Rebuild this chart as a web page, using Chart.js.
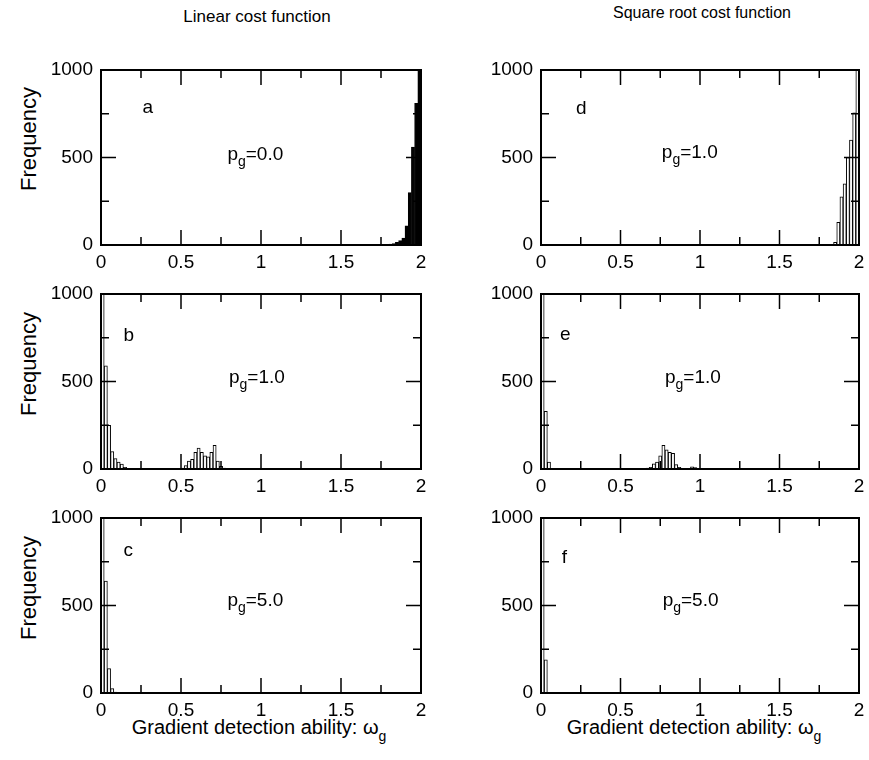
<!DOCTYPE html>
<html>
<head>
<meta charset="utf-8">
<script src="https://cdn.jsdelivr.net/npm/chart.js@4.4.0/dist/chart.umd.min.js"></script>
<style>
  body { margin: 0; background: #fff; width: 869px; height: 760px; position: relative; overflow: hidden;
         font-family: "Liberation Sans", Arial, Helvetica, sans-serif; color: #000; }
  canvas { position: absolute; }
  .txt { position: absolute; white-space: nowrap; }
  .ylab { position: absolute; font-size: 22px; transform: translate(-50%, -50%) rotate(-90deg); white-space: nowrap; }
  sub { font-size: 14px; vertical-align: -7px; line-height: 0; }
</style>
</head>
<body>
<div class="txt" style="left:0;width:514px;top:7px;text-align:center;font-size:17px">Linear cost function</div>
<div class="txt" style="left:552px;width:300px;top:4px;text-align:center;font-size:16px">Square root cost function</div>

<div class="ylab" style="left:29px;top:139px">Frequency</div>
<div class="ylab" style="left:29px;top:364px">Frequency</div>
<div class="ylab" style="left:29px;top:588px">Frequency</div>

<div class="txt" style="left:59px;width:400px;top:716px;text-align:center;font-size:20px">Gradient detection ability: &omega;<sub>g</sub></div>
<div class="txt" style="left:494px;width:400px;top:716px;text-align:center;font-size:20px">Gradient detection ability: &omega;<sub>g</sub></div>

<canvas id="pa" width="400" height="220" style="left:31px;top:58px"></canvas>
<canvas id="pb" width="400" height="220" style="left:31px;top:282px"></canvas>
<canvas id="pc" width="400" height="220" style="left:31px;top:506px"></canvas>
<canvas id="pd" width="398" height="220" style="left:471px;top:58px"></canvas>
<canvas id="pe" width="398" height="220" style="left:471px;top:282px"></canvas>
<canvas id="pf" width="398" height="220" style="left:471px;top:506px"></canvas>

<script>
// histogram bins are 0.02 wide on [0, 2]; only non-empty bins are listed (bin start, count)
const binWidth = 0.02;
const binCount = 100;
const xTicks = [0, 0.5, 1, 1.5, 2];
const xMinor = [0.25, 0.75, 1.25, 1.75];
const yTicks = [0, 500, 1000];
const yMinor = [250, 750];

// linear cost function
const aStarts = [1.78, 1.80, 1.82, 1.84, 1.86, 1.88, 1.90, 1.92, 1.94, 1.96, 1.98];
const aCounts = [3, 5, 8, 15, 25, 40, 110, 300, 560, 810, 1000];
const bStarts = [0, 0.02, 0.04, 0.06, 0.08, 0.10, 0.12, 0.14,
                 0.50, 0.52, 0.54, 0.56, 0.58, 0.60, 0.62, 0.64, 0.66, 0.68, 0.70, 0.72, 0.74, 0.76];
const bCounts = [1000, 590, 250, 100, 60, 40, 28, 10,
                 5, 20, 45, 55, 95, 120, 95, 75, 70, 95, 135, 45, 15, 5];
const cStarts = [0, 0.02, 0.04, 0.06, 0.08];
const cCounts = [1000, 640, 140, 25, 5];

// square root cost function
const dStarts = [1.82, 1.84, 1.86, 1.88, 1.90, 1.92, 1.94, 1.96, 1.98];
const dCounts = [3, 15, 130, 275, 350, 500, 600, 755, 1000];
const eStarts = [0, 0.02, 0.04,
                 0.64, 0.66, 0.68, 0.70, 0.72, 0.74, 0.76, 0.78, 0.80, 0.82, 0.84, 0.86, 0.88, 0.90, 0.94, 0.96];
const eCounts = [1000, 330, 40,
                 3, 5, 10, 30, 40, 75, 135, 110, 95, 90, 25, 10, 4, 3, 12, 8];
const fStarts = [0, 0.02];
const fCounts = [1000, 190];

function toBars(starts, counts) {
  const bars = [];
  for (let i = 0; i < binCount; i++) bars.push({ x: (i + 0.5) * binWidth, y: 0 });
  starts.forEach((s, k) => { bars[Math.round(s / binWidth)].y = counts[k]; });
  return bars;
}

const FONT = '"Liberation Sans", Arial, Helvetica, sans-serif';

const panels = [
  { id: 'pa', starts: aStarts, counts: aCounts, fill: '#000', letter: 'a', letterAt: [0.26, 757], pg: '0.0', pgAt: [0.79, 486] },
  { id: 'pb', starts: bStarts, counts: bCounts, fill: '#fff', letter: 'b', letterAt: [0.14, 734], pg: '1.0', pgAt: [0.80, 490] },
  { id: 'pc', starts: cStarts, counts: cCounts, fill: '#fff', letter: 'c', letterAt: [0.14, 781], pg: '5.0', pgAt: [0.79, 500] },
  { id: 'pd', starts: dStarts, counts: dCounts, fill: '#fff', letter: 'd', letterAt: [0.22, 747], pg: '1.0', pgAt: [0.76, 497] },
  { id: 'pe', starts: eStarts, counts: eCounts, fill: '#fff', letter: 'e', letterAt: [0.12, 737], pg: '1.0', pgAt: [0.78, 490] },
  { id: 'pf', starts: fStarts, counts: fCounts, fill: '#fff', letter: 'f', letterAt: [0.13, 745], pg: '5.0', pgAt: [0.765, 500] }
];

// frame and inward ticks on all four sides
const framePlugin = {
  id: 'frame',
  afterDraw(chart) {
    const { ctx, chartArea: a, scales: { x, y } } = chart;
    ctx.save();
    ctx.strokeStyle = '#000';
    ctx.lineWidth = 1.5;
    ctx.beginPath();
    const tick = (vals, len) => {
      vals.forEach(v => {
        const px = x.getPixelForValue(v);
        ctx.moveTo(px, a.bottom); ctx.lineTo(px, a.bottom - len);
        ctx.moveTo(px, a.top); ctx.lineTo(px, a.top + len);
      });
    };
    const ytick = (vals, len) => {
      vals.forEach(v => {
        const py = y.getPixelForValue(v);
        ctx.moveTo(a.left, py); ctx.lineTo(a.left + len, py);
        ctx.moveTo(a.right, py); ctx.lineTo(a.right - len, py);
      });
    };
    tick(xTicks, 15); tick(xMinor, 8);
    ytick(yTicks, 15); ytick(yMinor, 8);
    ctx.stroke();
    ctx.lineWidth = 2;
    ctx.strokeRect(a.left, a.top, a.right - a.left, a.bottom - a.top);
    ctx.restore();
  }
};

// panel letter and p_g annotation
const notePlugin = {
  id: 'note',
  afterDraw(chart) {
    const p = chart.options.plugins.note;
    const { ctx, scales: { x, y } } = chart;
    ctx.save();
    ctx.fillStyle = '#000';
    ctx.textBaseline = 'alphabetic';
    ctx.font = '19px ' + FONT;
    ctx.fillText(p.letter, x.getPixelForValue(p.letterAt[0]), y.getPixelForValue(p.letterAt[1]));
    let px = x.getPixelForValue(p.pgAt[0]);
    const py = y.getPixelForValue(p.pgAt[1]);
    ctx.fillText('p', px, py);
    px += ctx.measureText('p').width;
    ctx.font = '14px ' + FONT;
    ctx.fillText('g', px, py + 6);
    px += ctx.measureText('g').width;
    ctx.font = '19px ' + FONT;
    ctx.fillText('=' + p.pg, px, py);
    ctx.restore();
  }
};

panels.forEach(p => {
  new Chart(document.getElementById(p.id), {
    type: 'bar',
    data: {
      datasets: [{
        data: toBars(p.starts, p.counts),
        backgroundColor: p.fill,
        borderColor: '#000',
        borderWidth: 1,
        borderSkipped: 'start',
        barPercentage: 1,
        categoryPercentage: 1
      }]
    },
    options: {
      responsive: false,
      animation: false,
      layout: { padding: { top: 12, right: 10, left: 0, bottom: 0 } },
      plugins: {
        legend: { display: false },
        tooltip: { enabled: false },
        note: p
      },
      scales: {
        x: {
          type: 'linear', min: 0, max: 2, offset: false,
          grid: { display: false, drawTicks: false },
          border: { display: false },
          afterBuildTicks: s => { s.ticks = xTicks.map(v => ({ value: v })); },
          ticks: { padding: 6, color: '#000', maxRotation: 0, autoSkip: false,
                   font: { family: FONT, size: 19 }, callback: v => String(v) },
          afterFit: s => { s.height = 33; s.paddingLeft = 0; s.paddingRight = 0; }
        },
        y: {
          min: 0, max: 1000,
          grid: { display: false, drawTicks: false },
          border: { display: false },
          afterBuildTicks: s => { s.ticks = yTicks.map(v => ({ value: v })); },
          ticks: { padding: 8, color: '#000', font: { family: FONT, size: 19 }, callback: v => String(v) },
          afterFit: s => { s.width = 70; s.paddingTop = 0; s.paddingBottom = 0; }
        }
      }
    },
    plugins: [framePlugin, notePlugin]
  });
});
</script>
</body>
</html>
